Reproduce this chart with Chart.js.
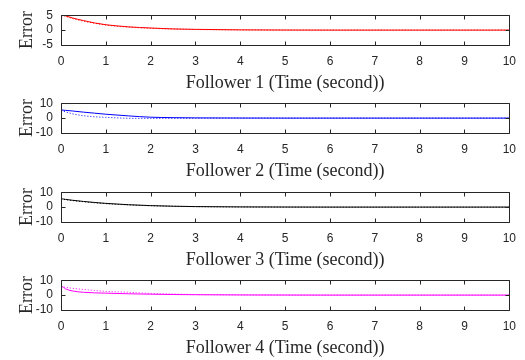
<!DOCTYPE html>
<html>
<head>
<meta charset="utf-8">
<script src="https://cdn.jsdelivr.net/npm/chart.js@4"></script>
<style>
  html, body { margin: 0; padding: 0; background: #fff; }
  #wrap { position: relative; width: 525px; height: 360px; overflow: hidden; }
  .panel { position: absolute; left: 0; width: 525px; height: 100px; }
</style>
</head>
<body>
<div id="wrap">
  <div class="panel" style="top:0px"><canvas id="c1"></canvas></div>
  <div class="panel" style="top:88px"><canvas id="c2"></canvas></div>
  <div class="panel" style="top:177px"><canvas id="c3"></canvas></div>
  <div class="panel" style="top:265px"><canvas id="c4"></canvas></div>
</div>
<script>
// time samples (seconds)
const time = [0, 0.02, 0.1, 0.25, 0.5, 0.75, 1, 1.5, 2, 2.5, 3, 4, 5, 6, 8, 10];

// follower errors, solid and dotted curves
const f1Solid  = [0, 5.2, 4.8, 4.1, 3.2, 2.4, 1.8, 1.1, 0.7, 0.4, 0.25, 0.08, 0.02, 0, 0, 0];
const f1Dotted = [5, 5, 4.6, 3.9, 3.0, 2.3, 1.7, 1.0, 0.6, 0.35, 0.2, 0.06, 0.01, 0, 0, 0];
const f2Solid  = [0, 5.4, 5.2, 4.8, 4.0, 3.3, 2.6, 1.5, 0.6, 0.3, 0.15, 0.05, 0, 0, 0, 0];
const f2Dotted = [5, 4.9, 4.2, 2.9, 1.6, 0.9, 0.5, -0.1, -0.2, -0.15, -0.1, -0.03, 0, 0, 0, 0];
const f3Solid  = [5.5, 5.5, 5.2, 4.6, 3.8, 3.1, 2.5, 1.6, 1.0, 0.6, 0.35, 0.12, 0.04, 0, 0, 0];
const f3Dotted = [5.3, 5.3, 5.0, 4.4, 3.6, 2.9, 2.3, 1.5, 0.9, 0.55, 0.3, 0.1, 0.03, 0, 0, 0];
const f4Solid  = [0, 5.7, 4.2, 2.8, 1.9, 1.5, 1.3, 0.9, 0.6, 0.4, 0.25, 0.1, 0.03, 0, 0, 0];
const f4Dotted = [5.7, 5.7, 5.2, 4.6, 3.8, 3.1, 2.5, 1.9, 1.1, 0.7, 0.4, 0.15, 0.05, 0, 0, 0];

const xTicks = [0, 1, 2, 3, 4, 5, 6, 7, 8, 9, 10];
const titles = [
    "Follower 1 (Time (second))",
    "Follower 2 (Time (second))",
    "Follower 3 (Time (second))",
    "Follower 4 (Time (second))"
];

const AX = "#262626";
const serif = "'Times New Roman', 'Liberation Serif', serif";
const sans = "Arial, 'Liberation Sans', sans-serif";

// matlab-like box with inward ticks
const boxPlugin = {
    id: "box",
    afterDatasetsDraw(chart) {
        const ctx = chart.ctx;
        const a = chart.chartArea;
        const xs = chart.scales.x, ys = chart.scales.y;
        const L = Math.round(a.left) + 0.5, R = Math.round(a.right) + 0.5;
        const T = Math.round(a.top) + 0.5, B = Math.round(a.bottom) + 0.5;
        ctx.save();
        ctx.strokeStyle = AX;
        ctx.lineWidth = 1;
        ctx.beginPath();
        ctx.rect(L, T, R - L, B - T);
        xs.ticks.forEach(t => {
            const px = Math.round(xs.getPixelForValue(t.value)) + 0.5;
            ctx.moveTo(px, B); ctx.lineTo(px, B - 4);
            ctx.moveTo(px, T); ctx.lineTo(px, T + 4);
        });
        ys.ticks.forEach(t => {
            const py = Math.round(ys.getPixelForValue(t.value)) + 0.5;
            ctx.moveTo(L, py); ctx.lineTo(L + 4, py);
            ctx.moveTo(R, py); ctx.lineTo(R - 4, py);
        });
        ctx.stroke();
        ctx.restore();
    }
};

function pts(ys) {
    return time.map((t, i) => ({ x: t, y: ys[i] }));
}

function makePanel(id, solid, dotted, color, yMax, title) {
    new Chart(document.getElementById(id), {
        type: "line",
        data: {
            datasets: [
                {
                    data: pts(dotted),
                    borderColor: color,
                    borderWidth: 1,
                    borderDash: [1, 2],
                    pointRadius: 0,
                    cubicInterpolationMode: "monotone"
                },
                {
                    data: pts(solid),
                    borderColor: color,
                    borderWidth: 1,
                    pointRadius: 0,
                    cubicInterpolationMode: "monotone"
                }
            ]
        },
        options: {
            responsive: true,
            maintainAspectRatio: false,
            animation: false,
            layout: { padding: { top: 13, right: 15, left: 0, bottom: 0 } },
            plugins: { legend: { display: false }, tooltip: { enabled: false } },
            scales: {
                x: {
                    type: "linear",
                    min: 0,
                    max: 10,
                    afterBuildTicks: s => { s.ticks = xTicks.map(v => ({ value: v })); },
                    afterFit: s => { s.height = 55; },
                    grid: { display: false, drawTicks: false },
                    border: { display: false },
                    ticks: { padding: 9, autoSkip: false, color: AX, font: { family: sans, size: 12 }, maxRotation: 0 },
                    title: {
                        display: true,
                        text: title,
                        color: AX,
                        font: { family: serif, size: 18 },
                        padding: { top: 2, bottom: 6 }
                    }
                },
                y: {
                    min: -yMax,
                    max: yMax,
                    afterBuildTicks: s => { s.ticks = [-yMax, 0, yMax].map(v => ({ value: v })); },
                    afterFit: s => { s.width = 61; },
                    grid: { display: false, drawTicks: false },
                    border: { display: false },
                    ticks: { padding: 8, autoSkip: false, color: AX, font: { family: sans, size: 12 } },
                    title: {
                        display: true,
                        text: "Error",
                        color: AX,
                        font: { family: serif, size: 18 },
                        padding: { top: 16, bottom: 0 }
                    }
                }
            }
        },
        plugins: [boxPlugin]
    });
}

makePanel("c1", f1Solid, f1Dotted, "#ff0000", 5, titles[0]);
makePanel("c2", f2Solid, f2Dotted, "#0000ff", 10, titles[1]);
makePanel("c3", f3Solid, f3Dotted, "#000000", 10, titles[2]);
makePanel("c4", f4Solid, f4Dotted, "#ff00ff", 10, titles[3]);
</script>
</body>
</html>
